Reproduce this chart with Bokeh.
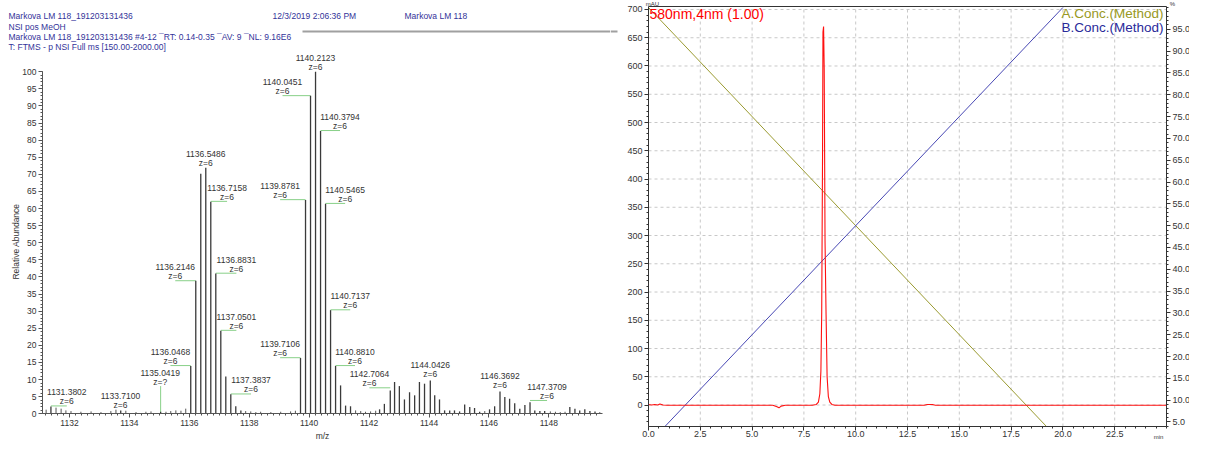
import numpy as np
from bokeh.plotting import figure
from bokeh.models import Range1d, LinearAxis, FixedTicker, PrintfTickFormatter, Label, ColumnDataSource
from bokeh.layouts import row
from bokeh.embed import file_html
from bokeh.resources import INLINE
from bokeh.core.properties import value

FONT = "Liberation Sans"

# ---------------- mass spectrum (left) ----------------
ms_mz = [1131.3802, 1133.7100, 1135.0419,
         1136.0468, 1136.2146, 1136.3817, 1136.5486, 1136.7158, 1136.8831, 1137.0501,
         1137.2170, 1137.3837, 1137.5500, 1137.7200,
         1139.7106, 1139.8781, 1140.0451, 1140.2123, 1140.3794, 1140.5465, 1140.7137,
         1140.8810, 1141.0480, 1141.2150, 1141.3800,
         1142.35, 1142.51, 1142.7064, 1142.85, 1143.01, 1143.18, 1143.35, 1143.52,
         1143.68, 1143.85, 1144.0426, 1144.19, 1144.35, 1144.52, 1144.69, 1144.85,
         1145.02, 1145.19, 1145.36, 1145.52, 1145.69,
         1146.02, 1146.19, 1146.3692, 1146.53, 1146.69, 1146.86, 1147.03, 1147.20,
         1147.3709, 1147.53, 1147.70, 1147.86,
         1148.70, 1148.87, 1149.03, 1149.20, 1149.37, 1149.54]
ms_int = [2.1, 1.0, 0.6,
          14.0, 38.9, 70.2, 71.9, 62.0, 41.0, 24.3,
          10.9, 5.7, 2.2, 1.0,
          16.3, 62.5, 93.0, 100.0, 82.7, 61.4, 30.3,
          14.0, 8.3, 2.4, 2.2,
          1.3, 2.9, 6.8, 9.3, 8.1, 4.2, 6.3, 5.4,
          9.3, 8.8, 9.7, 5.4, 4.2, 1.0, 1.0, 1.0,
          0.7, 2.7, 2.0, 1.7, 0.6,
          1.3, 2.2, 6.5, 4.9, 4.4, 3.1, 1.5, 2.6,
          3.4, 1.0, 0.8, 0.8,
          2.0, 1.5, 1.0, 1.3, 0.8, 0.7]

noise_mz = [1131.22, 1131.55, 1131.72, 1131.88, 1132.05, 1132.38, 1132.72, 1133.05,
            1133.38, 1133.55, 1133.88, 1134.22, 1134.55, 1134.72, 1135.22, 1135.38,
            1135.55, 1135.72, 1135.88, 1137.88, 1138.05, 1138.22, 1138.38, 1138.72,
            1139.05, 1139.38, 1139.54, 1141.55, 1141.72, 1141.88, 1142.05, 1142.22,
            1145.86, 1148.05, 1148.22, 1148.38, 1148.54, 1149.70]
noise_int = [1.2, 1.8, 1.5, 1.0, 0.8, 0.6, 0.7, 0.5,
             0.8, 1.2, 0.9, 0.5, 0.6, 0.7, 0.6, 0.8,
             1.0, 0.9, 1.5, 0.8, 0.7, 0.5, 0.6, 0.5,
             0.6, 0.7, 0.9, 1.0, 0.8, 0.6, 0.7, 0.9,
             0.8, 0.7, 0.6, 0.5, 0.6, 0.5]

lab_mz = [1131.3802, 1133.7100, 1135.0419, 1136.0468, 1136.2146, 1136.5486, 1136.7158,
          1136.8831, 1137.0501, 1137.3837, 1139.7106, 1139.8781, 1140.0451, 1140.2123,
          1140.3794, 1140.5465, 1140.7137, 1140.8810, 1142.7064, 1144.0426, 1146.3692,
          1147.3709]
lab_x = [1131.91, 1133.70, 1135.03, 1135.37, 1135.53, 1136.5486, 1137.26,
         1137.57, 1137.57, 1138.06, 1139.03, 1139.03, 1139.11, 1140.2123,
         1141.03, 1141.20, 1141.37, 1141.53, 1142.01, 1144.0426, 1146.3692,
         1147.94]
lab_y = [2.3, 1.3, 8.1, 14.1, 38.9, 71.9, 62.1,
         41.1, 24.4, 5.8, 16.4, 62.6, 93.0, 100.0,
         82.8, 61.5, 30.4, 14.1, 7.6, 10.2, 7.2,
         3.9]
lab_charge = ["z=6", "z=6", "z=?", "z=6", "z=6", "z=6", "z=6",
              "z=6", "z=6", "z=6", "z=6", "z=6", "z=6", "z=6",
              "z=6", "z=6", "z=6", "z=6", "z=6", "z=6", "z=6",
              "z=6"]

header_lines = ["Markova LM 118_191203131436",
                "NSI pos MeOH",
                "Markova LM 118_191203131436 #4-12 \u00afRT: 0.14-0.35 \u00afAV: 9 \u00afNL: 9.16E6",
                "T: FTMS - p NSI Full ms [150.00-2000.00]"]
header_date = "12/3/2019 2:06:36 PM"
header_name = "Markova LM 118"

# ---------------- chromatogram (right) ----------------
chrom_t = [0.0, 0.15, 0.3, 0.45, 0.55, 0.7, 0.9, 1.2, 2.0, 3.0, 4.0, 5.0, 6.0, 6.2, 6.3,
           6.4, 6.6, 7.0, 7.5, 7.9, 8.1, 8.2, 8.27, 8.32, 8.36, 8.40, 8.42, 8.45, 8.48,
           8.52, 8.57, 8.62, 8.68, 8.75, 8.85, 9.0, 10.0, 12.0, 13.3, 13.45, 13.7, 13.85,
           15.0, 18.0, 21.0, 25.0]
chrom_mau = [1, 0, 1, 0, 2, 0, -0.5, -0.5, -0.5, -0.5, -0.5, -0.5, -0.5, -3, -5,
             -2, -0.5, -0.5, -0.5, -0.5, 1, 5, 20, 60, 165, 445, 660, 670, 595,
             290, 160, 50, 15, 5, 1, -0.5, -0.5, -0.5, -0.5, 1, 1, -0.5,
             -0.5, -0.5, -0.5, -0.5]
grad_t = [0.0, 20.0]
grad_a = [100.0, 0.0]
grad_b = [0.0, 100.0]

x2_ticks = [0.0, 2.5, 5.0, 7.5, 10.0, 12.5, 15.0, 17.5, 20.0, 22.5]
y2_ticks = list(range(0, 701, 50))
pct_ticks = list(range(5, 100, 5))

# ---------------- layout geometry (canvas pixels) ----------------
H = 440
W1, W2 = 610, 579

# left panel: frame = whole canvas, axes placed at fixed locations
X1_PX, X1_VAL, X1_K = 69.0, 1132.0, 29.96      # canvas x of m/z 1132, px per m/z unit
Y1_PX0, Y1_K = 413.3, 3.421                   # canvas y of 0 %, px per %
x1_start = X1_VAL - X1_PX / X1_K
x1_end = x1_start + W1 / X1_K
y1_end = Y1_PX0 / Y1_K
y1_start = -(H - Y1_PX0) / Y1_K
MZ_LO, MZ_HI = 1131.10, 1149.78

# right panel plot box in local canvas px
P2_L, P2_R, P2_T, P2_B = 38.0, 556.0, 6.0, 426.0
T_LO, T_HI = 0.0, 25.0
MAU_LO, MAU_HI = -38.0, 705.3
PCT_LO, PCT_HI = 3.96, 100.23
kx2 = (P2_R - P2_L) / (T_HI - T_LO)
ky2 = (P2_B - P2_T) / (MAU_HI - MAU_LO)
kp2 = (P2_B - P2_T) / (PCT_HI - PCT_LO)
x2_start = T_LO - P2_L / kx2
x2_end = T_LO + (W2 - P2_L) / kx2
y2_end = MAU_HI + P2_T / ky2
y2_start = MAU_LO - (H - P2_B) / ky2
p_end = PCT_HI + P2_T / kp2
p_start = PCT_LO - (H - P2_B) / kp2


def style_axis(ax, size, color):
    ax.axis_line_color = color
    ax.major_tick_line_color = color
    ax.minor_tick_line_color = color
    ax.major_tick_in = 0
    ax.major_tick_out = 4
    ax.minor_tick_in = 0
    ax.minor_tick_out = 2
    ax.major_label_text_font = FONT
    ax.major_label_text_font_size = size
    ax.major_label_text_color = "#333333"
    ax.major_label_standoff = 2


# ================= left figure =================
p1 = figure(width=W1, height=H, output_backend="svg", toolbar_location=None,
            x_range=Range1d(x1_start, x1_end), y_range=Range1d(y1_start, y1_end),
            min_border_left=0, min_border_right=0, min_border_top=0, min_border_bottom=0)
p1.outline_line_color = None
p1.grid.visible = False
p1.background_fill_color = "white"
p1.border_fill_color = "white"

xa1, ya1 = p1.xaxis[0], p1.yaxis[0]
for ax in (xa1, ya1):
    style_axis(ax, "8.5px", "#555555")
xa1.fixed_location = 0
xa1.bounds = (MZ_LO, MZ_HI)
ya1.fixed_location = MZ_LO
ya1.bounds = (0, 100)
xa1.ticker = FixedTicker(ticks=list(range(1132, 1149, 2)),
                         minor_ticks=list(np.round(np.arange(1131.2, 1149.8, 0.2), 2)))
ya1.ticker = FixedTicker(ticks=list(range(0, 101, 5)), minor_ticks=list(range(0, 101, 1)))

# green label leaders
gx0, gy0, gx1, gy1 = [], [], [], []
for m, lx, ly, zc in zip(lab_mz, lab_x, lab_y, lab_charge):
    if zc == "z=?":
        gx0.append(m); gy0.append(0); gx1.append(m); gy1.append(ly)
    elif abs(lx - m) > 0.05:
        gx0.append(m); gy0.append(ly); gx1.append(lx); gy1.append(ly)
p1.segment(x0=gx0, y0=gy0, x1=gx1, y1=gy1, line_color="#88d088", line_width=1)

p1.segment(x0=noise_mz, y0=[0] * len(noise_mz), x1=noise_mz, y1=noise_int,
           line_color="#555555", line_width=1)
p1.segment(x0=ms_mz, y0=[0] * len(ms_mz), x1=ms_mz, y1=ms_int,
           line_color="#3a3a3a", line_width=1.3)

lsrc = ColumnDataSource(dict(x=lab_x, y=lab_y, mass=["%.4f" % m for m in lab_mz], z=lab_charge))
p1.text(x="x", y="y", text="mass", source=lsrc, y_offset=-13.5, text_align="center",
        text_baseline="middle", text_font=value(FONT), text_font_size="8.5px", text_color="#333333")
p1.text(x="x", y="y", text="z", source=lsrc, y_offset=-4.5, text_align="center",
        text_baseline="middle", text_font=value(FONT), text_font_size="8.5px", text_color="#333333")

# header rule (gray line), continues a few px into the right panel
rule_y1 = (Y1_PX0 - 31) / Y1_K
p1.segment(x0=[x1_start + 302 / X1_K], y0=[rule_y1], x1=[x1_end], y1=[rule_y1],
           line_color="#a0a0a0", line_width=2)


def lab_at(cx, cy, text, align="left", color="#333399", size="8.5px", angle=0.0, x0=0.0):
    return Label(x=cx - x0, y=H - cy, x_units="screen", y_units="screen",
                 text=text, text_align=align, text_baseline="middle", angle=angle,
                 text_font=FONT, text_font_size=size, text_color=color)


hdr_y = [15, 26, 36, 46]
for t, yy in zip(header_lines, hdr_y):
    p1.add_layout(lab_at(8, yy, t))
p1.add_layout(lab_at(272, 15, header_date))
p1.add_layout(lab_at(404, 15, header_name))
p1.add_layout(lab_at(15, 241, "Relative Abundance", align="center", color="#333333", angle=np.pi / 2))
p1.add_layout(lab_at(322, 435, "m/z", align="center", color="#333333"))

# ================= right figure =================
p2 = figure(width=W2, height=H, output_backend="svg", toolbar_location=None,
            x_range=Range1d(x2_start, x2_end), y_range=Range1d(y2_start, y2_end),
            min_border_left=0, min_border_right=0, min_border_top=0, min_border_bottom=0)
p2.extra_y_ranges = {"pct": Range1d(p_start, p_end)}
p2.background_fill_color = "white"
p2.border_fill_color = "white"
p2.outline_line_color = None
p2.grid.visible = False

xa2, ya2 = p2.xaxis[0], p2.yaxis[0]
xa2.ticker = FixedTicker(ticks=x2_ticks, minor_ticks=list(np.round(np.arange(0, 25.01, 0.5), 2)))
xa2.formatter = PrintfTickFormatter(format="%.1f")
xa2.fixed_location = MAU_LO
xa2.bounds = (T_LO, T_HI)
ya2.ticker = FixedTicker(ticks=y2_ticks, minor_ticks=list(range(-30, 701, 10)))
ya2.fixed_location = T_LO
ya2.bounds = (MAU_LO, MAU_HI)

rax = LinearAxis(y_range_name="pct",
                 ticker=FixedTicker(ticks=pct_ticks, minor_ticks=list(range(4, 101, 1))),
                 formatter=PrintfTickFormatter(format="%.1f"))
rax.fixed_location = T_HI
rax.bounds = (PCT_LO, PCT_HI)
p2.add_layout(rax, "right")

tax = LinearAxis(ticker=FixedTicker(ticks=[], minor_ticks=[]), major_label_text_font_size="0px")
tax.fixed_location = MAU_HI
tax.bounds = (T_LO, T_HI)
p2.add_layout(tax, "above")

for ax in (xa2, ya2, rax, tax):
    style_axis(ax, "9px", "#333333")
xa2.major_label_standoff = 0
tax.major_label_text_font_size = "0px"

# dashed grid drawn inside the plot box only
gv = [t for t in x2_ticks if t > T_LO]
p2.segment(x0=gv, y0=[MAU_LO] * len(gv), x1=gv, y1=[MAU_HI] * len(gv),
           line_color="#c8c8c8", line_dash="3 3", line_width=1)
p2.segment(x0=[T_LO] * len(y2_ticks), y0=y2_ticks, x1=[T_HI] * len(y2_ticks), y1=y2_ticks,
           line_color="#c8c8c8", line_dash="3 3", line_width=1)


def clip_poly(t, v, lo, hi):
    ot, ov = [], []
    for i in range(len(t) - 1):
        t0, t1, v0, v1 = t[i], t[i + 1], v[i], v[i + 1]
        if v1 != v0:
            sa, sb = (lo - v0) / (v1 - v0), (hi - v0) / (v1 - v0)
            s0, s1 = max(0.0, min(sa, sb)), min(1.0, max(sa, sb))
        else:
            s0, s1 = (0.0, 1.0) if lo <= v0 <= hi else (1.0, 0.0)
        if s0 < s1:
            for s in (s0, s1):
                ot.append(t0 + s * (t1 - t0)); ov.append(v0 + s * (v1 - v0))
    return ot, ov


at, av = clip_poly(grad_t, grad_a, PCT_LO, PCT_HI)
bt, bv = clip_poly(grad_t, grad_b, PCT_LO, PCT_HI)
p2.line(at, av, y_range_name="pct", line_color="#9a9a30", line_width=1)
p2.line(bt, bv, y_range_name="pct", line_color="#4848b4", line_width=1)
p2.line(chrom_t, chrom_mau, line_color="#ff1010", line_width=1.1)

# tail of the header rule
rule_y2 = y2_end - 31 / ky2
p2.segment(x0=[x2_start], y0=[rule_y2], x1=[x2_start + 7 / kx2], y1=[rule_y2],
           line_color="#a0a0a0", line_width=2)

X2 = 610  # canvas x of the right figure
p2.add_layout(lab_at(X2 + 39, 13, "580nm,4nm (1.00)", color="#ff0000", size="14px", x0=X2))
p2.add_layout(lab_at(X2 + P2_R - 3, 13, "A.Conc.(Method)", align="right", color="#999922", size="13.5px", x0=X2))
p2.add_layout(lab_at(X2 + P2_R - 3, 27, "B.Conc.(Method)", align="right", color="#2a2a9a", size="13.5px", x0=X2))
p2.add_layout(lab_at(X2 + P2_L + 4, 3, "mAU", align="center", color="#333333", size="6px", x0=X2))
p2.add_layout(lab_at(X2 + P2_R + 6, 3, "%", align="center", color="#333333", size="6px", x0=X2))
p2.add_layout(lab_at(X2 + P2_R - 8, 436, "min", align="center", color="#333333", size="6px", x0=X2))

layout = row(p1, p2)
open("out.html", "w").write(file_html(layout, INLINE))
